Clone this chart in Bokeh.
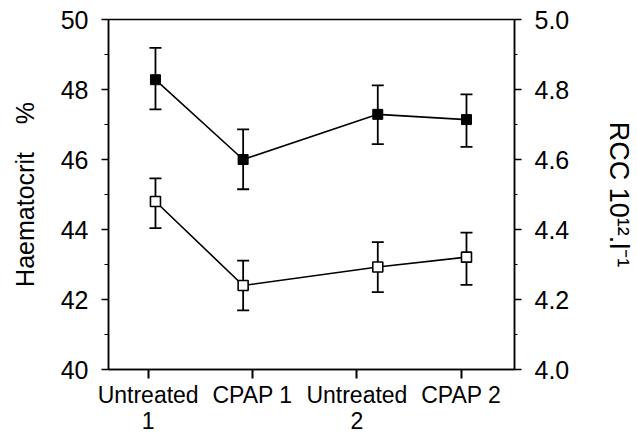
from bokeh.plotting import figure
from bokeh.models import (Range1d, LinearAxis, SingleIntervalTicker, FixedTicker,
                          ColumnDataSource, Whisker, TeeHead, PrintfTickFormatter)
from bokeh.embed import file_html
from bokeh.resources import INLINE

# ---- data ----
categories = ["Untreated\n1", "CPAP 1", "Untreated\n2", "CPAP 2"]
tick_pos = [1, 2, 3, 4]
x_pos = [1.07, 1.91, 3.20, 4.05]           # plotted x positions of the means (offset from ticks as in the original)

haematocrit = [48.28, 46.00, 47.29, 47.14]
haem_upper = [49.19, 46.86, 48.12, 47.86]
haem_lower = [47.43, 45.15, 46.44, 46.36]

rcc = [4.480, 4.240, 4.293, 4.321]
rcc_upper = [4.546, 4.311, 4.364, 4.391]
rcc_lower = [4.404, 4.169, 4.221, 4.242]

FONT = "Liberation Sans"

p = figure(width=637, height=436, output_backend="svg", toolbar_location=None,
           x_range=Range1d(0.62, 4.51), y_range=Range1d(40, 50),
           min_border_left=108, min_border_right=120, min_border_top=19, min_border_bottom=66)
p.extra_y_ranges = {"rcc": Range1d(4.0, 5.0)}

p.grid.visible = False
p.outline_line_color = "black"
p.outline_line_width = 1.5
p.background_fill_color = "white"
p.border_fill_color = "white"

# x axis
xa = p.xaxis[0]
xa.ticker = FixedTicker(ticks=tick_pos)
xa.major_label_overrides = {t: c for t, c in zip(tick_pos, categories)}
xa.major_tick_out = 9
xa.major_tick_in = 0
xa.minor_tick_out = 0
xa.minor_tick_in = 0
xa.major_tick_line_width = 2
xa.axis_line_width = 1.5
xa.major_label_standoff = 3
xa.major_label_text_font = FONT
xa.major_label_text_font_size = "23px"
xa.major_label_text_line_height = 1.0
xa.major_label_text_color = "black"

# left axis
ya = p.yaxis[0]
ya.ticker = SingleIntervalTicker(interval=2, num_minor_ticks=2)
ya.axis_label = "Haematocrit" + "\u00a0" * 4 + "%"
ya.axis_label_text_font = FONT
ya.axis_label_text_font_size = "25px"
ya.axis_label_text_font_style = "normal"
ya.axis_label_text_color = "black"
ya.axis_label_standoff = 19
ya.major_label_text_font = FONT
ya.major_label_text_font_size = "25px"
ya.major_label_text_color = "black"
ya.major_label_standoff = 13
ya.major_tick_out = 7
ya.major_tick_in = 0
ya.minor_tick_out = 4
ya.minor_tick_in = 0
ya.axis_line_width = 1.5
ya.major_tick_line_width = 1.5

# right axis
ra = LinearAxis(y_range_name="rcc")
ra.ticker = SingleIntervalTicker(interval=0.2, num_minor_ticks=2)
ra.formatter = PrintfTickFormatter(format="%.1f")
ra.axis_label = "RCC 10\u00b9\u00b2.l\u207b\u00b9"
ra.axis_label_text_font = FONT
ra.axis_label_text_font_size = "27px"
ra.axis_label_text_font_style = "normal"
ra.axis_label_text_color = "black"
ra.axis_label_standoff = 32
ra.major_label_text_font = FONT
ra.major_label_text_font_size = "25px"
ra.major_label_text_color = "black"
ra.major_label_standoff = 13
ra.major_tick_out = 7
ra.major_tick_in = 0
ra.minor_tick_out = 3
ra.minor_tick_in = 0
ra.axis_line_width = 1.5
ra.major_tick_line_width = 1.5
p.add_layout(ra, "right")

# series 1: haematocrit (filled squares)
s1 = ColumnDataSource(dict(x=x_pos, y=haematocrit, up=haem_upper, lo=haem_lower))
p.add_layout(Whisker(base="x", upper="up", lower="lo", source=s1, dimension="height",
                     line_color="black", line_width=1.8,
                     upper_head=TeeHead(size=12, line_width=1.8, line_color="black"),
                     lower_head=TeeHead(size=12, line_width=1.8, line_color="black")))
p.line("x", "y", source=s1, line_color="black", line_width=1.6)
p.scatter("x", "y", source=s1, marker="square", size=10, fill_color="black", line_color="black")

# series 2: RCC (open squares)
s2 = ColumnDataSource(dict(x=x_pos, y=rcc, up=rcc_upper, lo=rcc_lower))
p.add_layout(Whisker(base="x", upper="up", lower="lo", source=s2, dimension="height",
                     y_range_name="rcc", line_color="black", line_width=1.8,
                     upper_head=TeeHead(size=12, line_width=1.8, line_color="black"),
                     lower_head=TeeHead(size=12, line_width=1.8, line_color="black")))
p.line("x", "y", source=s2, y_range_name="rcc", line_color="black", line_width=1.6)
p.scatter("x", "y", source=s2, y_range_name="rcc", marker="square", size=10,
          fill_color="white", line_color="black", line_width=1.6)

open("out.html", "w").write(file_html(p, INLINE))
